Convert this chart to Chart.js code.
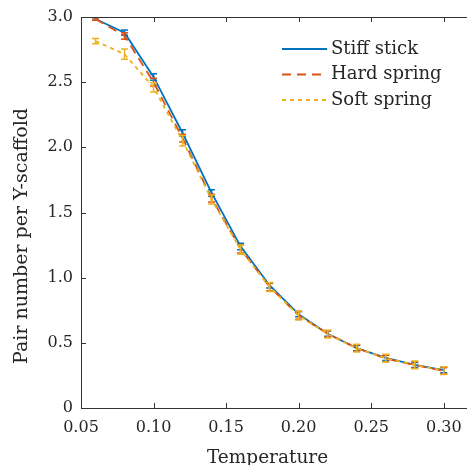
<!DOCTYPE html>
<html>
<head>
<meta charset="utf-8">
<script src="https://cdn.jsdelivr.net/npm/chart.js@4"></script>
<style>
  body { margin: 0; background: #fff; }
  canvas { display: block; }
</style>
</head>
<body>
<canvas id="chart" width="467" height="465"></canvas>
<script>
const temps = [0.06, 0.08, 0.10, 0.12, 0.14, 0.16, 0.18, 0.20, 0.22, 0.24, 0.26, 0.28, 0.30];
const stiffStick = [2.985, 2.88, 2.54, 2.11, 1.65, 1.24, 0.94, 0.72, 0.57, 0.46, 0.385, 0.33, 0.29];
const stiffErr = [0.01, 0.02, 0.025, 0.025, 0.025, 0.025, 0.02, 0.02, 0.02, 0.02, 0.02, 0.02, 0.02];
const hardSpring = [2.985, 2.855, 2.5, 2.07, 1.61, 1.22, 0.93, 0.71, 0.57, 0.46, 0.38, 0.33, 0.285];
const hardErr = [0.01, 0.025, 0.03, 0.03, 0.03, 0.03, 0.03, 0.03, 0.025, 0.025, 0.025, 0.025, 0.025];
const softSpring = [2.815, 2.715, 2.46, 2.05, 1.6, 1.215, 0.928, 0.71, 0.567, 0.459, 0.382, 0.331, 0.287];
const softErr = [0.02, 0.04, 0.035, 0.04, 0.035, 0.035, 0.035, 0.035, 0.03, 0.03, 0.03, 0.03, 0.03];
const xTicks = [0.05, 0.10, 0.15, 0.20, 0.25, 0.30];
const yTicks = [0, 0.5, 1.0, 1.5, 2.0, 2.5, 3.0];
const xTitle = 'Temperature';
const yTitle = 'Pair number per Y-scaffold';

const axisColor = '#333333';
const textColor = '#262626';
const fontFamily = '"DejaVu Serif", serif';

let toPoints = (ys) => temps.map((t, i) => ({ x: t, y: ys[i] }));

// inward ticks, top border, error bars, titles and legend drawn on the canvas
const decorations = {
    id: 'decorations',
    afterDatasetDraw(chart, args) {
        const ds = chart.data.datasets[args.index];
        const xs = chart.scales.x, ys = chart.scales.y;
        const ctx = chart.ctx;
        ctx.save();
        ctx.strokeStyle = ds.borderColor;
        ctx.lineWidth = 1.5;
        ds.data.forEach((p, i) => {
            const px = xs.getPixelForValue(p.x);
            const top = ys.getPixelForValue(p.y + ds.errors[i]);
            const bot = ys.getPixelForValue(p.y - ds.errors[i]);
            ctx.beginPath();
            ctx.moveTo(px, top); ctx.lineTo(px, bot);
            ctx.moveTo(px - 3.5, top); ctx.lineTo(px + 3.5, top);
            ctx.moveTo(px - 3.5, bot); ctx.lineTo(px + 3.5, bot);
            ctx.stroke();
        });
        ctx.restore();
    },
    afterDraw(chart) {
        const { ctx, chartArea } = chart;
        const xs = chart.scales.x, ys = chart.scales.y;
        ctx.save();
        ctx.strokeStyle = axisColor;
        ctx.lineWidth = 1;
        ctx.beginPath();
        ctx.moveTo(chartArea.left, chartArea.top + 0.5);
        ctx.lineTo(chartArea.right, chartArea.top + 0.5);
        xs.ticks.forEach(t => {
            const px = Math.round(xs.getPixelForValue(t.value)) + 0.5;
            ctx.moveTo(px, chartArea.bottom); ctx.lineTo(px, chartArea.bottom - 5);
            ctx.moveTo(px, chartArea.top); ctx.lineTo(px, chartArea.top + 5);
        });
        ys.ticks.forEach(t => {
            const py = Math.round(ys.getPixelForValue(t.value)) + 0.5;
            ctx.moveTo(chartArea.left, py); ctx.lineTo(chartArea.left + 5, py);
        });
        ctx.stroke();

        // axis titles
        ctx.fillStyle = textColor;
        ctx.textAlign = 'center';
        ctx.textBaseline = 'alphabetic';
        ctx.font = '18.5px ' + fontFamily;
        ctx.fillText(xTitle, 267.5, 463);
        ctx.save();
        ctx.translate(22, 236);
        ctx.rotate(-Math.PI / 2);
        ctx.textBaseline = 'middle';
        ctx.font = '19px ' + fontFamily;
        ctx.fillText(yTitle, 0, 0);
        ctx.restore();

        // legend
        let lx = 282, ly = 49;
        ctx.textAlign = 'left';
        chart.data.datasets.forEach(ds => {
            ctx.strokeStyle = ds.borderColor;
            ctx.lineWidth = 2;
            ctx.setLineDash(ds.borderDash || []);
            ctx.beginPath();
            ctx.moveTo(lx, ly); ctx.lineTo(lx + 45, ly);
            ctx.stroke();
            ctx.setLineDash([]);
            ctx.fillStyle = textColor;
            ctx.font = '18px ' + fontFamily;
            ctx.textBaseline = 'middle';
            ctx.fillText(ds.label, lx + 49, ly);
            ly += 25.5;
        });
        ctx.restore();
    }
};

const data = {
    datasets: [{
        label: 'Stiff stick',
        data: toPoints(stiffStick),
        errors: stiffErr,
        borderColor: '#0072BD',
        borderWidth: 1.8,
        order: 3,
    }, {
        label: 'Hard spring',
        data: toPoints(hardSpring),
        errors: hardErr,
        borderColor: '#D95319',
        borderWidth: 1.8,
        borderDash: [9, 6],
        order: 2,
    }, {
        label: 'Soft spring',
        data: toPoints(softSpring),
        errors: softErr,
        borderColor: '#EDB120',
        borderWidth: 1.8,
        borderDash: [4, 4],
        order: 1,
    }]
}

const config = {
    type: 'scatter',
    data: data,
    options: {
        responsive: false,
        animation: false,
        showLine: true,
        elements: { point: { radius: 0 }, line: { tension: 0 } },
        layout: { padding: { top: 17, right: 0, left: 0, bottom: 0 } },
        plugins: { legend: { display: false }, tooltip: { enabled: false } },
        scales: {
            x: {
                type: 'linear',
                min: 0.05,
                max: 0.316,
                afterBuildTicks: (scale) => { scale.ticks = xTicks.map(v => ({ value: v })); },
                afterFit: (scale) => { scale.height = 57; scale.paddingRight = 0; scale.paddingLeft = 0; },
                grid: { display: false, drawTicks: false },
                border: { display: true, color: axisColor, width: 1 },
                ticks: {
                    padding: 10,
                    color: textColor,
                    font: { family: fontFamily, size: 16 },
                    callback: (v) => v.toFixed(2),
                },
            },
            y: {
                min: 0,
                max: 3,
                afterBuildTicks: (scale) => { scale.ticks = yTicks.map(v => ({ value: v })); },
                afterFit: (scale) => { scale.width = 81; scale.paddingTop = 0; scale.paddingBottom = 0; },
                grid: { display: false, drawTicks: false },
                border: { display: true, color: axisColor, width: 1 },
                ticks: {
                    padding: 8,
                    color: textColor,
                    font: { family: fontFamily, size: 16 },
                    callback: (v) => v === 0 ? '0' : v.toFixed(1),
                },
            }
        }
    },
    plugins: [decorations],
}

new Chart(document.getElementById('chart'), config);
</script>
</body>
</html>
